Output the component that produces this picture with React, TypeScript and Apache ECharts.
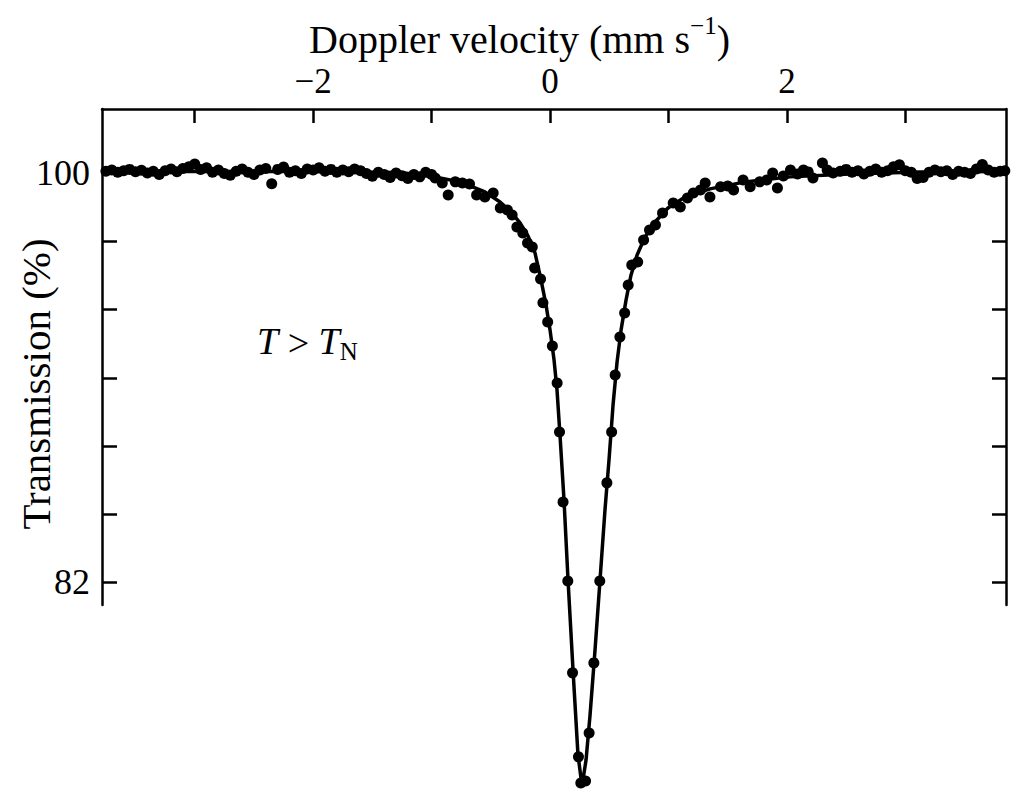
import React, { useEffect, useRef } from "react";
import * as echarts from "echarts";

// Measured Mössbauer spectrum (T > T_N): Doppler velocity (mm/s) and transmission (%)
const velocity = [
  -3.75, -3.70, -3.65, -3.60, -3.55, -3.50, -3.45, -3.40, -3.35, -3.30,
  -3.25, -3.20, -3.15, -3.10, -3.05, -3.00, -2.95, -2.90, -2.85, -2.80,
  -2.75, -2.70, -2.65, -2.60, -2.55, -2.50, -2.45, -2.40, -2.35, -2.30,
  -2.25, -2.20, -2.15, -2.10, -2.05, -2.00, -1.95, -1.90, -1.85, -1.80,
  -1.75, -1.70, -1.65, -1.60, -1.55, -1.50, -1.45, -1.40, -1.35, -1.30,
  -1.25, -1.20, -1.15, -1.10, -1.05, -1.00,
  -0.97, -0.91, -0.86, -0.80, -0.74, -0.68, -0.62, -0.55, -0.48, -0.42,
  -0.36, -0.32, -0.28, -0.23, -0.19, -0.15, -0.13, -0.08, -0.06, -0.02,
  0.02, 0.06, 0.08, 0.11, 0.15, 0.19, 0.24, 0.26, 0.30, 0.33,
  0.37, 0.42, 0.48, 0.52, 0.55, 0.59, 0.63, 0.66, 0.69, 0.74,
  0.79, 0.84, 0.89, 0.95, 1.04, 1.10, 1.16, 1.21, 1.27, 1.31,
  1.35, 1.44, 1.50, 1.55, 1.63, 1.69, 1.77, 1.83, 1.88, 1.92,
  1.97, 2.03, 2.09, 2.14, 2.18, 2.22, 2.30, 2.34, 2.39,
  2.45, 2.50, 2.55, 2.60, 2.65, 2.70, 2.75, 2.80, 2.85, 2.90,
  2.95, 3.00, 3.05, 3.10, 3.15, 3.20, 3.25, 3.30, 3.35, 3.40,
  3.45, 3.50, 3.55, 3.60, 3.65, 3.70, 3.75, 3.80, 3.84,
];

const transmission = [
  100.10, 100.15, 100.05, 100.12, 100.18, 100.08, 100.14, 100.02, 100.10, 99.95,
  100.12, 100.20, 100.08, 100.22, 100.30, 100.42, 100.18, 100.25, 100.05, 100.15,
  100.00, 99.92, 100.10, 100.20, 100.05, 99.95, 100.15, 100.22, 99.55, 100.18,
  100.28, 100.05, 100.12, 100.00, 100.20, 100.15, 100.25, 100.10, 100.18, 100.05,
  100.15, 100.08, 100.20, 100.12, 100.00, 99.88, 100.05, 99.95, 99.82, 100.02,
  99.90, 99.78, 99.95, 99.85, 100.05, 99.95,
  99.80, 99.58, 99.05, 99.63, 99.58, 99.54, 99.05, 98.96, 99.14, 98.48,
  98.39, 98.17, 97.64, 97.38, 96.94, 96.76, 95.84, 95.35, 94.30, 93.46,
  92.40, 90.77, 88.61, 85.53, 82.05, 78.00, 74.30, 73.15, 73.24, 75.35,
  78.44, 82.05, 86.37, 88.61, 91.12, 92.80, 93.85, 95.09, 95.97, 96.10,
  97.07, 97.51, 97.73, 98.26, 98.70, 98.52, 98.92, 99.14, 99.27, 99.58,
  98.96, 99.41, 99.45, 99.27, 99.71, 99.41, 99.63, 99.71, 100.02, 99.36,
  99.89, 100.15, 99.98, 100.15, 100.07, 99.80, 100.46, 100.15, 100.02,
  100.10, 100.18, 100.05, 100.12, 99.98, 100.10, 100.20, 100.05, 100.12, 100.30,
  100.38, 100.12, 100.05, 99.78, 99.82, 100.05, 100.15, 100.08, 100.12, 99.95,
  100.10, 100.05, 100.00, 100.20, 100.40, 100.15, 100.05, 100.10, 100.12,
];

// Fitted curve
const fitVelocity = [
  -3.783, -2.111, -1.267, -1.013, -0.760, -0.549, -0.422, -0.338, -0.253, -0.186,
  -0.127, -0.076, -0.034, 0.000, 0.034, 0.059, 0.084, 0.118, 0.152, 0.194,
  0.236, 0.270, 0.304, 0.338, 0.380, 0.422, 0.464, 0.498, 0.532, 0.566,
  0.600, 0.642, 0.684, 0.735, 0.802, 0.887, 0.996, 1.140, 1.351, 1.647,
  2.027, 2.533, 3.124, 3.850,
];
const fitTransmission = [
  100.09, 100.09, 100.04, 99.89, 99.63, 99.19, 98.74, 98.35, 97.82, 97.25,
  96.50, 95.31, 94.21, 93.11, 91.78, 90.46, 88.48, 85.62, 82.09, 78.13,
  74.39, 73.02, 74.16, 76.15, 79.01, 82.09, 85.18, 87.38, 89.80, 91.70,
  93.11, 94.43, 95.53, 96.41, 97.20, 97.86, 98.48, 98.96, 99.32, 99.63,
  99.85, 99.98, 100.07, 100.09,
];

const xTicks = [-3, -2, -1, 0, 1, 2, 3];
const xLabels = [-2, 0, 2];
const yTicks = [82, 85, 88, 91, 94, 97, 100];
const yLabels = [82, 100];

const SERIF = '"Liberation Serif", "Times New Roman", serif';

export default function App() {
  const ref = useRef<HTMLDivElement>(null);

  useEffect(() => {
    if (!ref.current) return;
    const chart = echarts.init(ref.current, null, { renderer: "svg" });
    const axisLine = { show: true, onZero: false, lineStyle: { color: "#000", width: 2.5 } };
    const tickStyle = { color: "#000", width: 2.5 };
    const fmt = (v: number) => (v < 0 ? "\u2212" + Math.abs(v) : String(v));

    chart.setOption({
      animation: false,
      backgroundColor: "#fff",
      title: {
        text: "{a|Doppler velocity (mm s}{b|\u22121}{a|)}",
        left: 304,
        top: 8,
        textStyle: {
          fontWeight: "normal",
          rich: {
            a: { fontFamily: SERIF, fontSize: 40, fontWeight: "normal", color: "#000", lineHeight: 46, verticalAlign: "bottom" },
            b: { fontFamily: SERIF, fontSize: 25, fontWeight: "normal", color: "#000", lineHeight: 25, verticalAlign: "top" },
          },
        },
      },
      grid: { left: 102, right: 13, top: 109, bottom: 187, containLabel: false },
      xAxis: {
        type: "value",
        position: "top",
        min: -3.783,
        max: 3.85,
        axisLine,
        splitLine: { show: false },
        axisTick: { show: true, inside: true, length: 14, customValues: xTicks, lineStyle: tickStyle },
        axisLabel: {
          show: true,
          customValues: xLabels,
          formatter: fmt,
          fontFamily: SERIF,
          fontSize: 35,
          color: "#000",
          margin: 10,
        },
      },
      yAxis: [
        {
          type: "value",
          position: "left",
          min: 80.99,
          max: 102.84,
          axisLine,
          splitLine: { show: false },
          axisTick: { show: true, inside: true, length: 15, customValues: yTicks, lineStyle: tickStyle },
          axisLabel: {
            show: true,
            customValues: yLabels,
            fontFamily: SERIF,
            fontSize: 36,
            color: "#000",
            margin: 12,
          },
        },
        {
          type: "value",
          position: "right",
          min: 80.99,
          max: 102.84,
          axisLine,
          splitLine: { show: false },
          axisTick: { show: true, inside: true, length: 14, customValues: yTicks, lineStyle: tickStyle },
          axisLabel: { show: false },
        },
      ],
      graphic: [
        {
          type: "text",
          x: 36,
          y: 384,
          rotation: Math.PI / 2,
          style: {
            text: "Transmission (%)",
            fontFamily: SERIF,
            fontSize: 41,
            fill: "#000",
            align: "center",
            verticalAlign: "middle",
            textAlign: "center",
            textVerticalAlign: "middle",
          },
        },
        {
          type: "text",
          x: 257,
          y: 343,
          style: {
            text: "{i|T} > {i|T}{s|N}",
            fontFamily: SERIF,
            fontSize: 38,
            fill: "#000",
            verticalAlign: "middle",
            textVerticalAlign: "middle",
            rich: {
              i: { fontFamily: SERIF, fontSize: 38, fontStyle: "italic", color: "#000", lineHeight: 42, verticalAlign: "top" },
              s: { fontFamily: SERIF, fontSize: 25, color: "#000", lineHeight: 25, verticalAlign: "bottom" },
            },
          },
        },
      ],
      series: [
        {
          type: "line",
          data: fitVelocity.map((v, i) => [v, fitTransmission[i]]),
          showSymbol: false,
          symbol: "none",
          clip: false,
          lineStyle: { color: "#000", width: 3.5 },
          z: 2,
        },
        {
          type: "scatter",
          data: velocity.map((v, i) => [v, transmission[i]]),
          symbol: "circle",
          symbolSize: 11,
          clip: false,
          itemStyle: { color: "#000", opacity: 1 },
          z: 3,
        },
      ],
    });

    return () => chart.dispose();
  }, []);

  return (
    <div
      ref={ref}
      style={{ position: "fixed", left: 0, top: 0, width: 1019, height: 792, background: "#fff" }}
    />
  );
}
